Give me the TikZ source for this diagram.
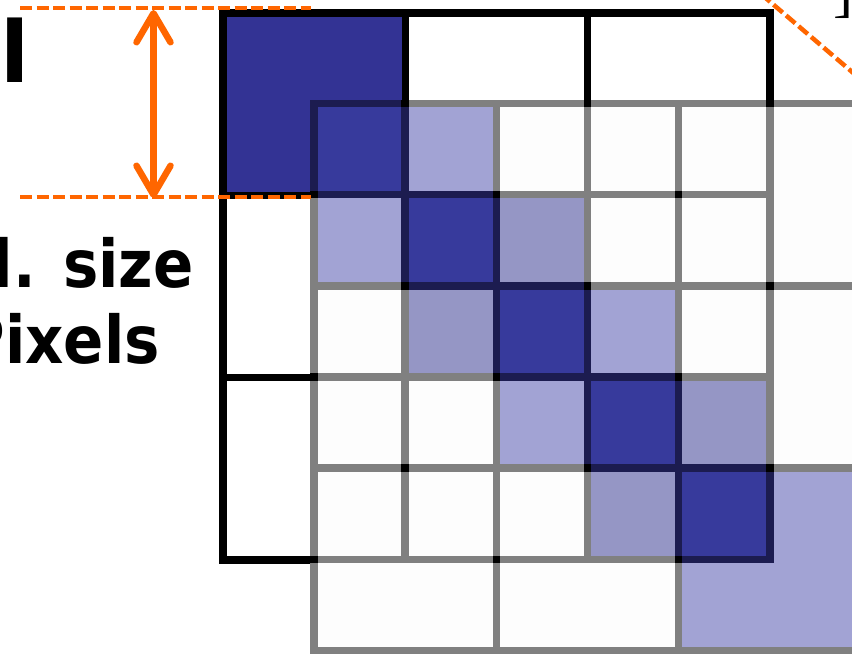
\documentclass[tikz,border=0pt]{standalone}
\usepackage{fontspec}
\newfontfamily\labfont[FakeStretch=0.9]{DejaVu Sans}
\newfontfamily\bigfont{DejaVu Sans}
\newfontfamily\serfont{Liberation Serif}
\usetikzlibrary{arrows.meta,calc}
\definecolor{cellnavy}{RGB}{51,51,148}
\definecolor{cD}{RGB}{55,58,156}
\definecolor{cL}{RGB}{162,163,212}
\definecolor{cM}{RGB}{149,150,197}
\definecolor{cW}{RGB}{253,253,253}
\definecolor{gridgray}{RGB}{128,128,128}
\definecolor{navyedge}{RGB}{28,28,80}
\definecolor{guideorange}{RGB}{255,102,0}
\begin{document}
\begin{tikzpicture}[x=1pt,y=-1pt,
  blackline/.style={draw=black,line width=7.5pt,line cap=rect},
  grayline/.style={draw=gridgray,line width=7.5pt,line cap=rect},
  darkedge/.style={draw=navyedge,line width=7.5pt,line join=miter},
  guide/.style={draw=guideorange,line width=4.5pt,dash pattern=on 12pt off 4.5pt},
  dimline/.style={draw=guideorange,line width=6.5pt,
    {Straight Barb[length=29pt,width=34pt,round]}-{Straight Barb[length=29pt,width=34pt,round]}},
  labtext/.style={inner sep=0pt,font=\labfont\bfseries\fontsize{66pt}{66pt}\selectfont},
  hubdot/.style={fill=black}]
\useasboundingbox (0,0) rectangle (852,655);
\clip (0,0) rectangle (852,655);
\fill[white] (0,0) rectangle (852,655);
% ---------- coarse black grid ----------
\def\bs{182.33}
\fill[cellnavy] (223,13) rectangle (405.33,195.33);
\foreach \i in {0,1,2,3}{
  \draw[blackline] (223+\i*\bs,13) -- (223+\i*\bs,560);
  \draw[blackline] (223,13+\i*\bs) -- (770,13+\i*\bs);
}
% ---------- fine overlay grid ----------
\def\gx{314}\def\gy{103.5}\def\h{91.15}
\foreach \r/\row in {0/{cD,cL,cW,cW,cW},1/{cL,cD,cM,cW,cW},2/{cW,cM,cD,cL,cW},3/{cW,cW,cL,cD,cM},4/{cW,cW,cW,cM,cD}}{
  \foreach \k [count=\c from 0] in \row {
    \fill[fill=\k] (\gx+\c*\h,\gy+\r*\h) rectangle (\gx+\c*\h+\h,\gy+\r*\h+\h);
  }
}
\fill[cW] (\gx+5*\h,\gy) rectangle (\gx+7*\h,\gy+4*\h);
\fill[cW] (\gx,\gy+5*\h) rectangle (\gx+4*\h,\gy+6*\h);
\fill[cL] (\gx+5*\h,\gy+4*\h) rectangle (\gx+7*\h,\gy+6*\h);
\fill[cL] (\gx+4*\h,\gy+5*\h) rectangle (\gx+6*\h,\gy+6*\h);
\foreach \i in {0,...,5}{
  \draw[grayline] (\gx+\i*\h,\gy) -- (\gx+\i*\h,\gy+5*\h);
  \draw[grayline] (\gx,\gy+\i*\h) -- (\gx+5*\h,\gy+\i*\h);
}
\foreach \i in {0,2,4}{
  \draw[grayline] (\gx+\i*\h,\gy+5*\h) -- (\gx+\i*\h,\gy+6*\h);
  \draw[grayline] (\gx+5*\h,\gy+\i*\h) -- (\gx+7*\h,\gy+\i*\h);
}
\draw[grayline] (\gx,\gy+6*\h) -- (\gx+7*\h,\gy+6*\h);
\draw[grayline] (\gx+7*\h,\gy) -- (\gx+7*\h,\gy+6*\h);
\foreach \k in {0,...,4}{
  \draw[darkedge] (\gx+\k*\h,\gy+\k*\h) rectangle (\gx+\k*\h+\h,\gy+\k*\h+\h);
}
\foreach \i/\j in {1/0,3/0,5/0,0/1,0/3,0/5,1/4,3/2,3/4,2/1,4/1,2/3,4/3,5/2,5/4,2/5,4/5,1/2}{
  \fill[hubdot] (\gx+\i*\h-3.75,\gy+\j*\h-3.75) rectangle (\gx+\i*\h+3.75,\gy+\j*\h+3.75);
}
% ---------- orange guides ----------
\coordinate (topL) at (20,8);
\coordinate (topR) at (311,8);
\coordinate (botL) at (20,197);
\coordinate (botR) at (311,197);
\coordinate (diagA) at (761,-6);
\coordinate (diagB) at (872,89);
\draw[guide] (topL) -- (topR);
\draw[guide] (botL) -- (botR);
\draw[guide] (diagA) -- (diagB);
\coordinate (dimtop) at (153.5,10);
\coordinate (dimbot) at (153.5,198);
\draw[dimline] (dimtop) -- (dimbot);
% ---------- texts ----------
\node[inner sep=0pt,anchor=base west,font=\bigfont\bfseries\fontsize{85pt}{85pt}\selectfont] (titlel) at (0,83) {l};
\node[labtext,anchor=base east] (sizelab) at (194,288) {d. size};
\node[labtext,anchor=base east] (pixlab) at (160,363) {Pixels};
\node[inner sep=0pt,anchor=base east,font=\serfont\fontsize{60pt}{60pt}\selectfont] (brk) at (854,11) {]};
\end{tikzpicture}
\end{document}
